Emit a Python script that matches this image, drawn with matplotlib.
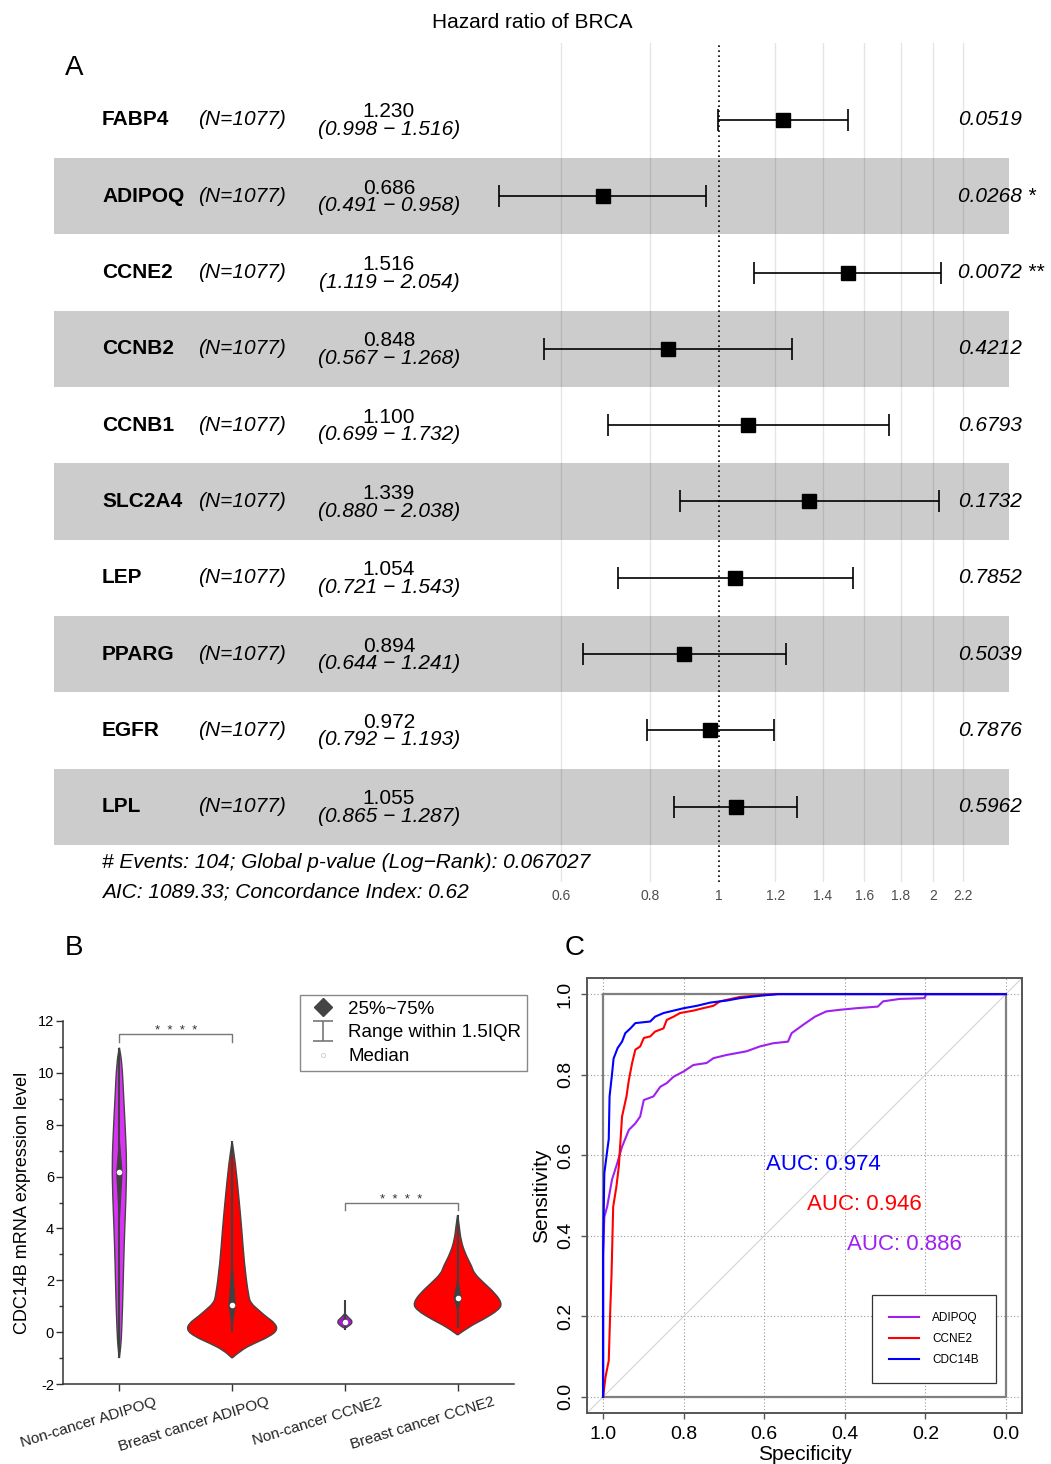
import numpy as np
import matplotlib
matplotlib.use('Agg')
import matplotlib.pyplot as plt
from matplotlib.path import Path
from matplotlib.patches import PathPatch, Polygon
from matplotlib.lines import Line2D
from matplotlib.legend_handler import HandlerErrorbar
from matplotlib.transforms import ScaledTranslation

plt.rcParams['font.family'] = ['Liberation Sans', 'DejaVu Sans']
plt.rcParams['axes.unicode_minus'] = False

# ---------------- data: panel A (Cox model forest plot)
genes = ['FABP4', 'ADIPOQ', 'CCNE2', 'CCNB2', 'CCNB1', 'SLC2A4', 'LEP', 'PPARG', 'EGFR', 'LPL']
n_label = '(N=1077)'
hr = [1.230, 0.686, 1.516, 0.848, 1.100, 1.339, 1.054, 0.894, 0.972, 1.055]
hr_lo = [0.998, 0.491, 1.119, 0.567, 0.699, 0.880, 0.721, 0.644, 0.792, 0.865]
hr_hi = [1.516, 0.958, 2.054, 1.268, 1.732, 2.038, 1.543, 1.241, 1.193, 1.287]
p_labels = ['0.0519', '0.0268 *', '0.0072 **', '0.4212', '0.6793',
            '0.1732', '0.7852', '0.5039', '0.7876', '0.5962']
hr_ticks = [0.6, 0.8, 1, 1.2, 1.4, 1.6, 1.8, 2, 2.2]
footer = ['# Events: 104; Global p-value (Log\u2212Rank): 0.067027',
          'AIC: 1089.33; Concordance Index: 0.62']

# ---------------- data: panel B (violins)
groups = ['Non-cancer ADIPOQ', 'Breast cancer ADIPOQ', 'Non-cancer CCNE2', 'Breast cancer CCNE2']
violin_levels = [
    [-1.0, -0.56, 0.08, 1.37, 2.67, 3.94, 5.23, 6.53, 7.8, 9.1, 10.4, 10.97],
    [-1.0, -0.69, -0.43, -0.17, 0.08, 0.34, 0.6, 0.86, 1.11, 1.37, 2.66, 3.95, 5.23, 6.52, 7.36],
    [0.15, 0.25, 0.41, 0.55, 0.72],
    [-0.11, 0.21, 0.47, 0.86, 1.12, 1.5, 1.89, 2.27, 2.53, 3.05, 3.56, 4.07, 4.52],
]
violin_density = [
    [0, .013, .021, .031, .038, .047, .059, .065, .053, .038, .023, 0],
    [0, .080, .199, .332, .403, .383, .301, .233, .168, .146, .108, .086, .059, .029, 0],
    [0, .044, .071, .035, 0],
    [0, .102, .221, .367, .394, .332, .235, .146, .127, .065, .029, .015, 0],
]
q1 = [4.3, 0.2, 0.25, 0.86]
median = [6.17, 1.05, 0.40, 1.33]
q3 = [7.4, 2.74, 0.6, 2.0]
whisker_lo = [-1.0, 0.0, 0.08, 0.15]
whisker_hi = [10.97, 7.36, 1.24, 4.52]
sig_pairs = [(0, 1), (2, 3)]
sig_level = [11.49, 5.0]

# ---------------- data: panel C (ROC curves)
roc_names = ['ADIPOQ', 'CCNE2', 'CDC14B']
roc_auc = [0.886, 0.946, 0.974]
adipoq_spec = [1.0, 1.0, 0.997, 0.99, 0.978, 0.965, 0.953, 0.936, 0.92, 0.908, 0.899, 0.875,
               0.858, 0.842, 0.825, 0.8, 0.776, 0.743, 0.726, 0.693, 0.644, 0.611, 0.578,
               0.541, 0.532, 0.503, 0.474, 0.446, 0.413, 0.371, 0.318, 0.305, 0.264, 0.202,
               0.198, 0.0]
adipoq_sens = [0.0, 0.348, 0.447, 0.472, 0.539, 0.58, 0.621, 0.663, 0.679, 0.696, 0.737, 0.746,
               0.77, 0.779, 0.795, 0.808, 0.824, 0.829, 0.841, 0.849, 0.858, 0.87, 0.878,
               0.882, 0.903, 0.924, 0.944, 0.957, 0.961, 0.965, 0.969, 0.982, 0.988, 0.99,
               1.0, 1.0]
ccne2_spec = [1.0, 0.994, 0.986, 0.982, 0.979, 0.975, 0.967, 0.961, 0.953, 0.942, 0.936, 0.928,
              0.92, 0.908, 0.899, 0.883, 0.871, 0.85, 0.842, 0.825, 0.809, 0.776, 0.752, 0.726,
              0.71, 0.66, 0.602, 0.569, 0.0]
ccne2_sens = [0.0, 0.05, 0.09, 0.224, 0.307, 0.472, 0.522, 0.572, 0.696, 0.746, 0.787, 0.829,
              0.862, 0.87, 0.891, 0.895, 0.907, 0.915, 0.936, 0.944, 0.953, 0.959, 0.965, 0.971,
              0.982, 0.993, 0.998, 1.0, 1.0]
cdc14b_spec = [1.0, 1.0, 0.997, 0.99, 0.986, 0.984, 0.978, 0.974, 0.964, 0.953, 0.945, 0.932,
               0.92, 0.883, 0.871, 0.85, 0.825, 0.8, 0.767, 0.734, 0.693, 0.66, 0.61, 0.565, 0.0]
cdc14b_sens = [0.0, 0.36, 0.555, 0.61, 0.64, 0.746, 0.80, 0.84, 0.866, 0.882, 0.903, 0.915,
               0.928, 0.932, 0.944, 0.953, 0.959, 0.965, 0.971, 0.979, 0.984, 0.99, 0.996, 1.0, 1.0]

W, H = 1051, 1464
fig = plt.figure(figsize=(W / 100, H / 100), dpi=100)


def px_rect(left, top, right, bottom):
    # axes rectangle given in pixel coordinates of the final image
    return [left / W, 1 - bottom / H, (right - left) / W, (bottom - top) / H]


def ax_frac(px, left, right):
    return (px - left) / (right - left)


# ======================= Panel A =======================
axA = fig.add_axes(px_rect(54, 43, 1009, 882))
axA.set_xscale('log')
axA.set_xlim(0.1162, 2.556)
axA.set_ylim(9.987, -1.009)
for s in axA.spines.values():
    s.set_visible(False)

rows = np.arange(len(genes))
for i in rows[1::2]:
    axA.axhspan(i - 0.5, i + 0.5, color='#cccccc', lw=0, zorder=0)
for t in hr_ticks:
    if t != 1:
        axA.axvline(t, color='black', alpha=0.1, lw=1, zorder=1)
axA.axvline(1, color='black', ls=(0, (1, 2)), lw=1.2, zorder=2)

hr_a = np.array(hr)
axA.errorbar(hr_a, rows, xerr=[hr_a - np.array(hr_lo), np.array(hr_hi) - hr_a],
             fmt='s', color='black', ms=10.4, capsize=8, elinewidth=1.2,
             capthick=1.2, zorder=3)

axA.set_xticks(hr_ticks)
axA.set_xticklabels([f'{t:g}' for t in hr_ticks])
axA.set_xticks([], minor=True)
axA.set_yticks([])
axA.tick_params(axis='x', length=0, labelsize=10, labelcolor='#4d4d4d', pad=5)

fsA = 15
trA = axA.get_yaxis_transform()
for i, g in enumerate(genes):
    axA.text(ax_frac(102, 54, 1009), i, g, transform=trA, fontsize=fsA,
             fontweight='bold', va='center', ha='left')
    axA.text(ax_frac(198, 54, 1009), i, n_label, transform=trA, fontsize=fsA,
             style='italic', va='center', ha='left')
    axA.text(ax_frac(389, 54, 1009), i - 0.105, f'{hr[i]:.3f}', transform=trA,
             fontsize=fsA, va='center', ha='center')
    axA.text(ax_frac(389, 54, 1009), i + 0.125,
             f'({hr_lo[i]:.3f} \u2212 {hr_hi[i]:.3f})', transform=trA,
             fontsize=fsA, style='italic', va='center', ha='center')
    axA.text(ax_frac(958, 54, 1009), i, p_labels[i], transform=trA, fontsize=fsA,
             style='italic', va='center', ha='left')

axA.text(ax_frac(102, 54, 1009), 9.725, footer[0], transform=trA, fontsize=fsA,
         style='italic', va='center', ha='left')
axA.text(ax_frac(102, 54, 1009), 10.118, footer[1], transform=trA, fontsize=fsA,
         style='italic', va='center', ha='left')

fig.text(532 / W, 1 - 22 / H, 'Hazard ratio of BRCA', ha='center', va='center', fontsize=15)
fig.text(74 / W, 1 - 68 / H, 'A', ha='center', va='center', fontsize=20)
fig.text(74 / W, 1 - 948 / H, 'B', ha='center', va='center', fontsize=20)
fig.text(575 / W, 1 - 948 / H, 'C', ha='center', va='center', fontsize=20)

# ======================= Panel B =======================
axB = fig.add_axes(px_rect(63, 1021, 514, 1384))
axB.set_xlim(-0.5, 3.5)
axB.set_ylim(-2, 12)
axB.spines['top'].set_visible(False)
axB.spines['right'].set_visible(False)
for s in ('left', 'bottom'):
    axB.spines[s].set_color('#333333')
    axB.spines[s].set_linewidth(1.1)

violin_colors = ['#dc32f8', '#ff0000', '#a81ad8', '#ff0000']


def violin_path(x0, levels, half):
    right = [(x0 + w, v) for v, w in zip(levels, half)]
    left = [(x0 - w, v) for v, w in zip(levels[::-1], half[::-1])]
    pts = right + left
    verts = [pts[0]]
    codes = [Path.MOVETO]
    for k in range(1, len(pts) - 1):
        mid = ((pts[k][0] + pts[k + 1][0]) / 2, (pts[k][1] + pts[k + 1][1]) / 2)
        verts += [pts[k], mid]
        codes += [Path.CURVE3, Path.CURVE3]
    verts.append(pts[-1])
    codes.append(Path.LINETO)
    return Path(verts, codes)


box_half = [0.024, 0.027, 0.02, 0.031]
for i in range(len(groups)):
    axB.add_patch(PathPatch(violin_path(i, violin_levels[i], violin_density[i]),
                            facecolor=violin_colors[i], edgecolor='#444444', lw=1, zorder=2))
    axB.plot([i, i], [whisker_lo[i], whisker_hi[i]], color='#404040', lw=1.5, zorder=3,
             solid_capstyle='butt')
    axB.add_patch(Polygon([(i, q1[i]), (i + box_half[i], median[i]), (i, q3[i]),
                           (i - box_half[i], median[i])], closed=True,
                          facecolor='#404040', edgecolor='#404040', lw=0.8, zorder=4))
    axB.plot(i, median[i], 'o', ms=4, mfc='white', mec='white', mew=0, zorder=5)

for (a, b), lev in zip(sig_pairs, sig_level):
    drop = 0.3
    axB.plot([a, a, b, b], [lev - drop, lev, lev, lev - drop], color='#777777', lw=1,
             zorder=2, clip_on=False)
    axB.text((a + b) / 2, lev - 0.12, '*  *  *  *', ha='center', va='bottom', fontsize=9.5,
             color='#333333')

axB.set_xticks(range(len(groups)))
axB.set_xticklabels([])
lab_tr = axB.get_xaxis_transform() + ScaledTranslation(0.35, -0.11, fig.dpi_scale_trans)
for i, g in enumerate(groups):
    axB.text(i, 0, g, transform=lab_tr, rotation=17, rotation_mode='anchor',
             ha='right', va='top', fontsize=11, color='#222222')
axB.set_yticks(np.arange(-2, 13, 2))
axB.set_yticks(np.arange(-1, 12, 2), minor=True)
axB.tick_params(axis='y', which='major', direction='out', length=5, width=1,
                labelsize=10.5, pad=1.5, color='#333333')
axB.tick_params(axis='y', which='minor', direction='out', length=3, width=1, color='#333333')
axB.tick_params(axis='x', direction='out', length=5, width=1, color='#333333')
axB.set_ylabel('CDC14B mRNA expression level', fontsize=13)
axB.yaxis.set_label_coords(-0.072, 0.5)

leg_diamond = Line2D([], [], marker='D', ls='none', color='#444444', ms=9)
leg_range = axB.errorbar([np.nan], [np.nan], yerr=[1], fmt='none', ecolor='#777777',
                         elinewidth=1.2, capsize=7, capthick=1.2)
leg_median = Line2D([], [], marker='o', ls='none', ms=3, mfc='white', mec='#cccccc', mew=0.6)
legB = axB.legend([leg_diamond, leg_range, leg_median],
                  ['25%~75%', 'Range within 1.5IQR', 'Median'],
                  handler_map={type(leg_range): HandlerErrorbar(yerr_size=0.55)},
                  loc='upper right', bbox_to_anchor=(527 / W, 1 - 995 / H),
                  bbox_transform=fig.transFigure, borderaxespad=0, fontsize=13.5,
                  frameon=True, fancybox=False, edgecolor='#888888', framealpha=1,
                  borderpad=0.3, labelspacing=0.35, handlelength=1.76,
                  handletextpad=0.5)
legB.get_frame().set_linewidth(1)

# ======================= Panel C =======================
axC = fig.add_axes(px_rect(587, 978, 1022, 1413))
axC.set_xlim(1.04, -0.04)
axC.set_ylim(-0.04, 1.04)
for s in axC.spines.values():
    s.set_color('#555555')
    s.set_linewidth(1.4)

ticks_c = np.arange(0, 1.01, 0.2)
for t in ticks_c:
    axC.axvline(t, color='#999999', lw=0.8, ls=(0, (1, 2)), zorder=0)
    axC.axhline(t, color='#999999', lw=0.8, ls=(0, (1, 2)), zorder=0)
axC.plot([1, 0, 0, 1, 1], [0, 0, 1, 1, 0], color='#808080', lw=1.6, zorder=1)
axC.axline((1, 0), (0, 1), color='#d3d3d3', lw=0.8, zorder=1)

roc_colors = ['#a020f0', '#ff0000', '#0000ff']
roc_spec = [adipoq_spec, ccne2_spec, cdc14b_spec]
roc_sens = [adipoq_sens, ccne2_sens, cdc14b_sens]
for name, sp, se, c in zip(roc_names, roc_spec, roc_sens, roc_colors):
    axC.plot(sp, se, color=c, lw=1.5, label=name, zorder=3)

auc_pos = [(0.253, 0.378), (0.352, 0.478), (0.454, 0.577)]
for (x, y), a, c in zip(auc_pos, roc_auc, roc_colors):
    axC.text(x, y, f'AUC: {a:.3f}', color=c, fontsize=16, ha='center', va='center')

axC.set_xticks(ticks_c)
axC.set_yticks(ticks_c)
axC.set_xticklabels([f'{t:.1f}' for t in ticks_c])
axC.set_yticklabels([f'{t:.1f}' for t in ticks_c], rotation=90, va='center')
axC.tick_params(direction='out', length=4, width=1, color='#555555', labelsize=14, pad=5.5)
axC.set_xlabel('Specificity', fontsize=15)
axC.set_ylabel('Sensitivity', fontsize=15)
axC.xaxis.set_label_coords(0.5, -0.074)
axC.yaxis.set_label_coords(-0.083, 0.5)

legC = axC.legend(loc='lower right', bbox_to_anchor=(0.9395, 0.069), borderaxespad=0,
                  fontsize=8.5, frameon=True, fancybox=False, edgecolor='#333333',
                  framealpha=1, borderpad=1.45, labelspacing=0.75, handlelength=2.5,
                  handletextpad=1.1)
legC.get_frame().set_linewidth(0.9)

fig.savefig('out.png', dpi=100)
